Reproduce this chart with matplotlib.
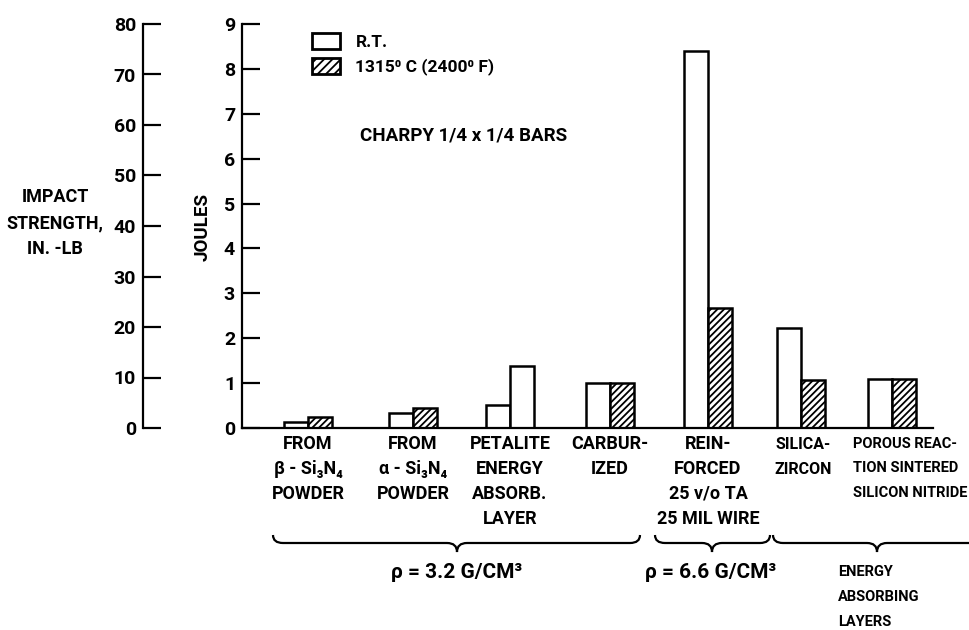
import matplotlib
matplotlib.use("Agg")
import matplotlib.pyplot as plt
import matplotlib.transforms as mtransforms
from matplotlib.patches import Patch, PathPatch
from matplotlib.path import Path

plt.rcParams['font.family'] = ['Roboto', 'DejaVu Sans']
plt.rcParams['font.weight'] = 'bold'
plt.rcParams['hatch.linewidth'] = 1.3

# impact energy, joules
group_labels = [
    "FROM\nβ - Si₃N₄\nPOWDER",
    "FROM\nα - Si₃N₄\nPOWDER",
    "PETALITE\nENERGY\nABSORB.\nLAYER",
    "CARBUR-\nIZED",
    "REIN-\nFORCED\n25 v/o TA\n25 MIL WIRE",
    "SILICA-\nZIRCON",
    "POROUS REAC-\nTION SINTERED\nSILICON NITRIDE",
]
rt_joules = [0.14, 0.33, 0.51, 1.0, 8.4, 2.23, 1.1]
hot_joules = [0.25, 0.45, 1.38, 1.0, 2.67, 1.07, 1.1]
hot_hatched = [True, True, False, True, True, True, True]
joule_ticks = [0, 1, 2, 3, 4, 5, 6, 7, 8, 9]
inlb_ticks = [0, 10, 20, 30, 40, 50, 60, 70, 80]
series_labels = ["R.T.", "1315⁰ C (2400⁰ F)"]

# group centres (hundreds of pixels from the joule axis)
group_x = [0.66, 1.71, 2.68, 3.68, 4.66, 5.59, 6.50]
bar_w = 0.24

W, H = 970, 630
fig = plt.figure(figsize=(W / 100, H / 100), dpi=100)

def fy(py):
    return 1 - py / H

y0_px, y9_px = 428, 24
bottom = fy(y0_px)
height = (y0_px - y9_px) / H
ax = fig.add_axes([242 / W, bottom, 691 / W, height])
ax.set_xlim(0, 6.91)
ax.set_ylim(0, 9)
for s in ['top', 'right']:
    ax.spines[s].set_visible(False)
for s in ['left', 'bottom']:
    ax.spines[s].set_linewidth(1.6)
ax.set_xticks([])
ax.set_yticks(joule_ticks)
ax.tick_params(axis='y', direction='in', length=13, width=1.6, pad=5, labelsize=14)

for i, x in enumerate(group_x):
    ax.bar(x - bar_w / 2, rt_joules[i], bar_w, facecolor='white', edgecolor='black', linewidth=1.8)
    ax.bar(x + bar_w / 2, hot_joules[i], bar_w, facecolor='white', edgecolor='black',
           linewidth=1.8, hatch='/////' if hot_hatched[i] else None)

# second scale in inch-pounds
ax2 = fig.add_axes([143 / W, bottom, 0.0005, height])
ax2.set_ylim(0, 80)
for s in ['top', 'right', 'bottom']:
    ax2.spines[s].set_visible(False)
ax2.spines['left'].set_linewidth(1.6)
ax2.set_xticks([])
ax2.set_yticks(inlb_ticks)
ax2.tick_params(axis='y', direction='in', length=13, width=1.6, pad=5, labelsize=14)
ax2.patch.set_visible(False)

fig.text(55 / W, fy(223), "IMPACT\nSTRENGTH,\nIN. -LB", ha='center', va='center',
         fontsize=13, linespacing=1.6)
fig.text(203 / W, fy(227), "JOULES", ha='center', va='center', rotation=90, fontsize=13.5)

fig.text(360 / W, fy(135), "CHARPY 1/4 x 1/4 BARS", ha='left', va='center', fontsize=13.5)

handles = [Patch(facecolor='white', edgecolor='black', linewidth=2),
           Patch(facecolor='white', edgecolor='black', linewidth=2, hatch='////')]
leg = fig.legend(handles, series_labels, loc='upper left', bbox_to_anchor=(312 / W, fy(33)),
                 bbox_transform=fig.transFigure, frameon=False, fontsize=12.5, borderpad=0,
                 borderaxespad=0, handlelength=1.6, handleheight=1.05, handletextpad=0.9,
                 labelspacing=0.45)

tr = mtransforms.blended_transform_factory(ax.transData, fig.transFigure)
for i, lab in enumerate(group_labels):
    if i < 5:
        ax.text(group_x[i], fy(435), lab, transform=tr, ha='center', va='top',
                fontsize=13, linespacing=1.5, clip_on=False)
    elif i == 5:
        ax.text(group_x[i] + 0.02, fy(437), lab, transform=tr, ha='center', va='top',
                fontsize=11.5, linespacing=1.8, clip_on=False)
    else:
        ax.text(group_x[i] - 0.39, fy(437), lab, transform=tr, ha='left', va='top',
                fontsize=10.5, linespacing=1.95, clip_on=False)

def brace(x0, x1, xm, top=535, mid=543, tip=552, d=0.1):
    verts = [(x0, fy(top)), (x0, fy(mid)), (x0 + d, fy(mid)),
             (xm - d, fy(mid)),
             (xm, fy(mid)), (xm, fy(tip)),
             (xm, fy(mid)), (xm + d, fy(mid)),
             (x1 - d, fy(mid)),
             (x1, fy(mid)), (x1, fy(top))]
    codes = [Path.MOVETO, Path.CURVE3, Path.CURVE3, Path.LINETO,
             Path.CURVE3, Path.CURVE3, Path.CURVE3, Path.CURVE3,
             Path.LINETO, Path.CURVE3, Path.CURVE3]
    ax.add_patch(PathPatch(Path(verts, codes), transform=tr, facecolor='none',
                           edgecolor='black', linewidth=1.6, clip_on=False))

brace(0.31, 3.98, 2.15)
brace(4.13, 5.28, 4.70)
brace(5.31, 7.45, 6.35)

fig.text(457 / W, fy(572), "ρ = 3.2 G/CM³", ha='center', va='center', fontsize=15)
fig.text(711 / W, fy(572), "ρ = 6.6 G/CM³", ha='center', va='center', fontsize=15)
fig.text(838 / W, fy(565), "ENERGY\nABSORBING\nLAYERS", ha='left', va='top',
         fontsize=10.5, linespacing=2.0)

fig.savefig("out.png", dpi=100, facecolor='white')
